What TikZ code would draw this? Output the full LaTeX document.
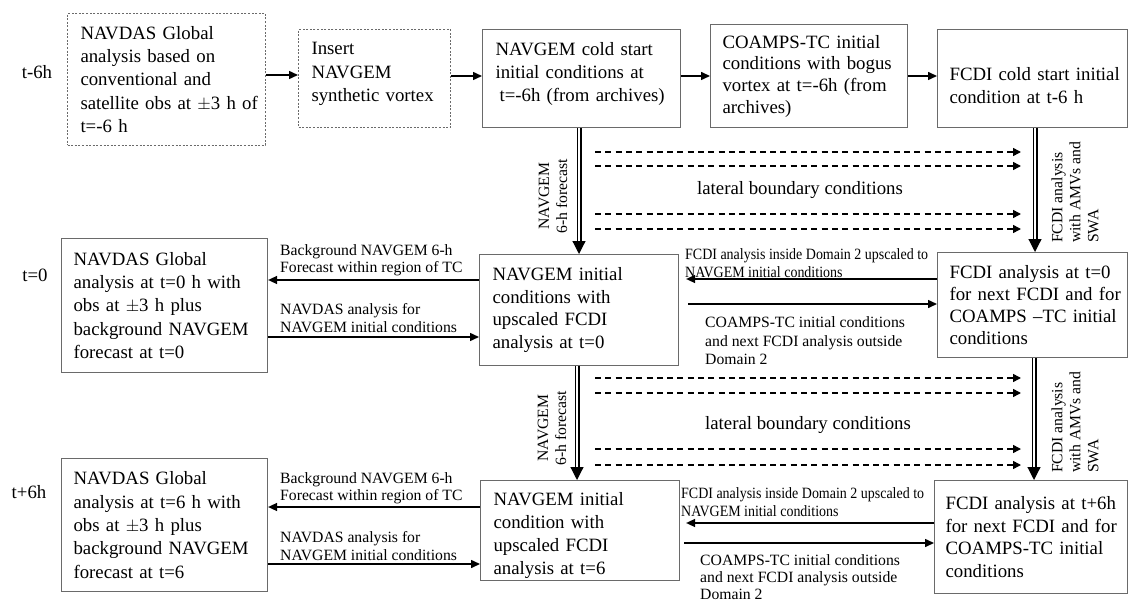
\documentclass[tikz,border=0pt]{standalone}
\usepackage{fontspec}
\setmainfont{Liberation Serif}
\newfontfamily\condfont[FakeStretch=0.89]{Liberation Serif}
\usetikzlibrary{arrows.meta,calc}
\definecolor{boxgray}{HTML}{6A6A6A}
\newcommand{\bxl}[1]{\mbox{#1}}
\begin{document}
\begin{tikzpicture}[x=1pt,y=-1pt,
  box/.style={draw=boxgray, line width=1.1pt, inner ysep=0pt, align=left, anchor=north west, font=\fontsize{18.8}{23.3}\selectfont},
  dbox/.style={box, dash pattern=on 2pt off 1.6pt, line width=1pt},
  lbl/.style={inner sep=0pt, align=left, anchor=west, font=\fontsize{15.7}{17.5}\selectfont},
  clbl/.style={inner sep=0pt, align=left, anchor=west, font=\condfont\fontsize{15.7}{18}\selectfont},
  rlbl/.style={inner sep=0pt, rotate=90, font=\fontsize{15.7}{18}\selectfont},
  tlbl/.style={inner sep=0pt, font=\fontsize{18.8}{22}\selectfont},
  arr/.style={line width=1.5pt, -{Triangle[length=9pt,width=8pt]}},
  dasharr/.style={line width=1.5pt, dash pattern=on 6pt off 4.3pt, -{Triangle[length=8pt,width=8pt]}},
  dbl/.style={line width=1.2pt, double=white, double distance=2.6pt, -{Triangle[length=13pt,width=13pt]}},
]
\fill[white] (0,0) rectangle (1129,604);
\useasboundingbox (0,0) rectangle (1129,604);

% time labels
\node[tlbl] (tm6) at (37,72) {t-6h};
\node[tlbl] (t0) at (35,275) {t=0};
\node[tlbl] (tp6) at (29,492) {t+6h};

% row 1
\node[dbox, minimum width=198pt, text width=172pt, inner xsep=13pt, minimum height=132pt] (A) at (67,13)
  {\bxl{NAVDAS Global}\\\bxl{analysis based on}\\\bxl{conventional and}\\\bxl{satellite obs at $\pm$3 h of}\\\bxl{t=-6 h}};
\node[dbox, minimum width=152pt, text width=126pt, inner xsep=13pt, minimum height=98pt] (B) at (298,29)
  {\bxl{Insert}\\\bxl{NAVGEM}\\\bxl{synthetic vortex}\rule[-13pt]{0pt}{1pt}};
\node[box, minimum width=198pt, text width=172pt, inner xsep=13pt, minimum height=98pt] (C) at (482,29)
  {\bxl{NAVGEM cold start}\\\bxl{initial conditions at}\\\bxl{\hspace{4pt}t=-6h (from archives)}\rule[-13pt]{0pt}{1pt}};
\node[box, minimum width=197pt, text width=173pt, inner xsep=12pt, minimum height=103pt, font=\fontsize{18.8}{21.7}\selectfont] (D) at (710,24)
  {\bxl{COAMPS-TC initial}\\\bxl{conditions with bogus}\\\bxl{vortex at t=-6h (from}\\\bxl{archives)}};
\node[box, minimum width=190pt, text width=166pt, inner xsep=12pt, minimum height=98pt] (E) at (937,29)
  {\rule{0pt}{27pt}\bxl{FCDI cold start initial}\\\bxl{condition at t-6 h}};

\draw[arr] (A.east |- 0,75) -- (B.west |- 0,75);
\draw[arr] (B.east |- 0,76) -- (C.west |- 0,76);
\draw[arr] (C.east |- 0,76) -- (D.west |- 0,76);
\draw[arr] (D.east |- 0,76) -- (E.west |- 0,76);

% row 2
\node[box, minimum width=206pt, text width=182pt, inner xsep=12pt, minimum height=134pt] (F) at (61,238)
  {\bxl{NAVDAS Global}\\\bxl{analysis at t=0 h with}\\\bxl{obs at $\pm$3 h plus}\\\bxl{background NAVGEM}\\\bxl{forecast at t=0}};
\node[box, minimum width=199pt, text width=173pt, inner xsep=13pt, minimum height=111pt, font=\fontsize{18.8}{22.7}\selectfont] (G) at (479,254)
  {\bxl{NAVGEM initial}\\\bxl{conditions with}\\\bxl{upscaled FCDI}\\\bxl{analysis at t=0}};
\node[box, minimum width=190pt, text width=166pt, inner xsep=12pt, minimum height=105pt, font=\fontsize{18.8}{21.7}\selectfont] (H) at (937,252)
  {\bxl{FCDI analysis at t=0}\\\bxl{for next FCDI and for}\\\bxl{COAMPS --TC initial}\\\bxl{conditions}};

% row 3
\node[box, minimum width=206pt, text width=182pt, inner xsep=12pt, minimum height=133pt] (I) at (61,458)
  {\bxl{NAVDAS Global}\\\bxl{analysis at t=6 h with}\\\bxl{obs at $\pm$3 h plus}\\\bxl{background NAVGEM}\\\bxl{forecast at t=6}};
\node[box, minimum width=199pt, text width=173pt, inner xsep=13pt, minimum height=100pt, font=\fontsize{18.8}{22.7}\selectfont] (J) at (480,480)
  {\rule{0pt}{23pt}\bxl{NAVGEM initial}\\\bxl{condition with}\\\bxl{upscaled FCDI}\\\bxl{analysis at t=6}};
\node[box, minimum width=193pt, text width=171pt, inner xsep=11pt, minimum height=113pt, font=\fontsize{18.8}{22.7}\selectfont] (K) at (934,480)
  {\bxl{FCDI analysis at t+6h}\\\bxl{for next FCDI and for}\\\bxl{COAMPS-TC initial}\\\bxl{conditions}};

% vertical double arrows
\draw[dbl] (C.south -| 579,0) -- (G.north -| 579,0);
\draw[dbl] (E.south -| 1035,0) -- (H.north -| 1035,0);
\draw[dbl] (G.south -| 577,0) -- (J.north -| 577,0);
\draw[dbl] (H.south -| 1034,0) -- (K.north -| 1034,0);

\node[rlbl, align=center] (n1) at (553,196) {NAVGEM\\6-h forecast};
\node[rlbl, align=center] (n2) at (552,428) {NAVGEM\\6-h forecast};
\node[rlbl, align=left, anchor=west] (f1) at (1075,243) {FCDI analysis\\with AMVs and\\SWA};
\node[rlbl, align=left, anchor=west] (f2) at (1075,473) {FCDI analysis\\with AMVs and\\SWA};

% lateral boundary dashed arrows
\foreach \yy [count=\i] in {152,166,214,229,378,393,449,465}{
  \coordinate (bs\i) at (595,\yy);
  \coordinate (be\i) at (1021,\yy);
  \draw[dasharr] (bs\i) -- (be\i);
}
\node[tlbl] (lb1) at (800,190) {lateral boundary conditions};
\node[tlbl] (lb2) at (808,425) {lateral boundary conditions};

% row 2 horizontal arrows
\draw[arr] (G.west |- 0,280) -- (F.east |- 0,280);
\draw[arr] (F.east |- 0,337) -- (G.west |- 0,337);
\draw[arr] (H.west |- 0,279) -- ($(G.east |- 0,279)+(7,0)$);
\draw[arr] ($(G.east |- 0,304)+(9,0)$) -- (H.west |- 0,304);
\node[lbl] (l1) at (280,260) {Background NAVGEM 6-h\\Forecast within region of TC};
\node[lbl] (l2) at (280,318) {NAVDAS analysis for\\NAVGEM initial conditions};
\node[clbl] (l3) at (685,263) {FCDI analysis inside Domain 2 upscaled to\\NAVGEM initial conditions};
\node[lbl, font=\fontsize{15.7}{18.5}\selectfont] (l4) at (705,341) {COAMPS-TC initial conditions\\and next FCDI analysis outside\\Domain 2};

% row 3 horizontal arrows
\draw[arr] (J.west |- 0,507) -- (I.east |- 0,507);
\draw[arr] (I.east |- 0,564) -- (J.west |- 0,564);
\draw[arr] (K.west |- 0,523) -- ($(J.east |- 0,523)+(6,0)$);
\draw[arr] ($(J.east |- 0,543)+(4,0)$) -- (K.west |- 0,543);
\node[lbl] (l5) at (280,488) {Background NAVGEM 6-h\\Forecast within region of TC};
\node[lbl] (l6) at (280,546) {NAVDAS analysis for\\NAVGEM initial conditions};
\node[clbl] (l7) at (681,502) {FCDI analysis inside Domain 2 upscaled to\\NAVGEM initial conditions};
\node[lbl, font=\fontsize{15.7}{17}\selectfont] (l8) at (700,577) {COAMPS-TC initial conditions\\and next FCDI analysis outside\\Domain 2};
\end{tikzpicture}
\end{document}
